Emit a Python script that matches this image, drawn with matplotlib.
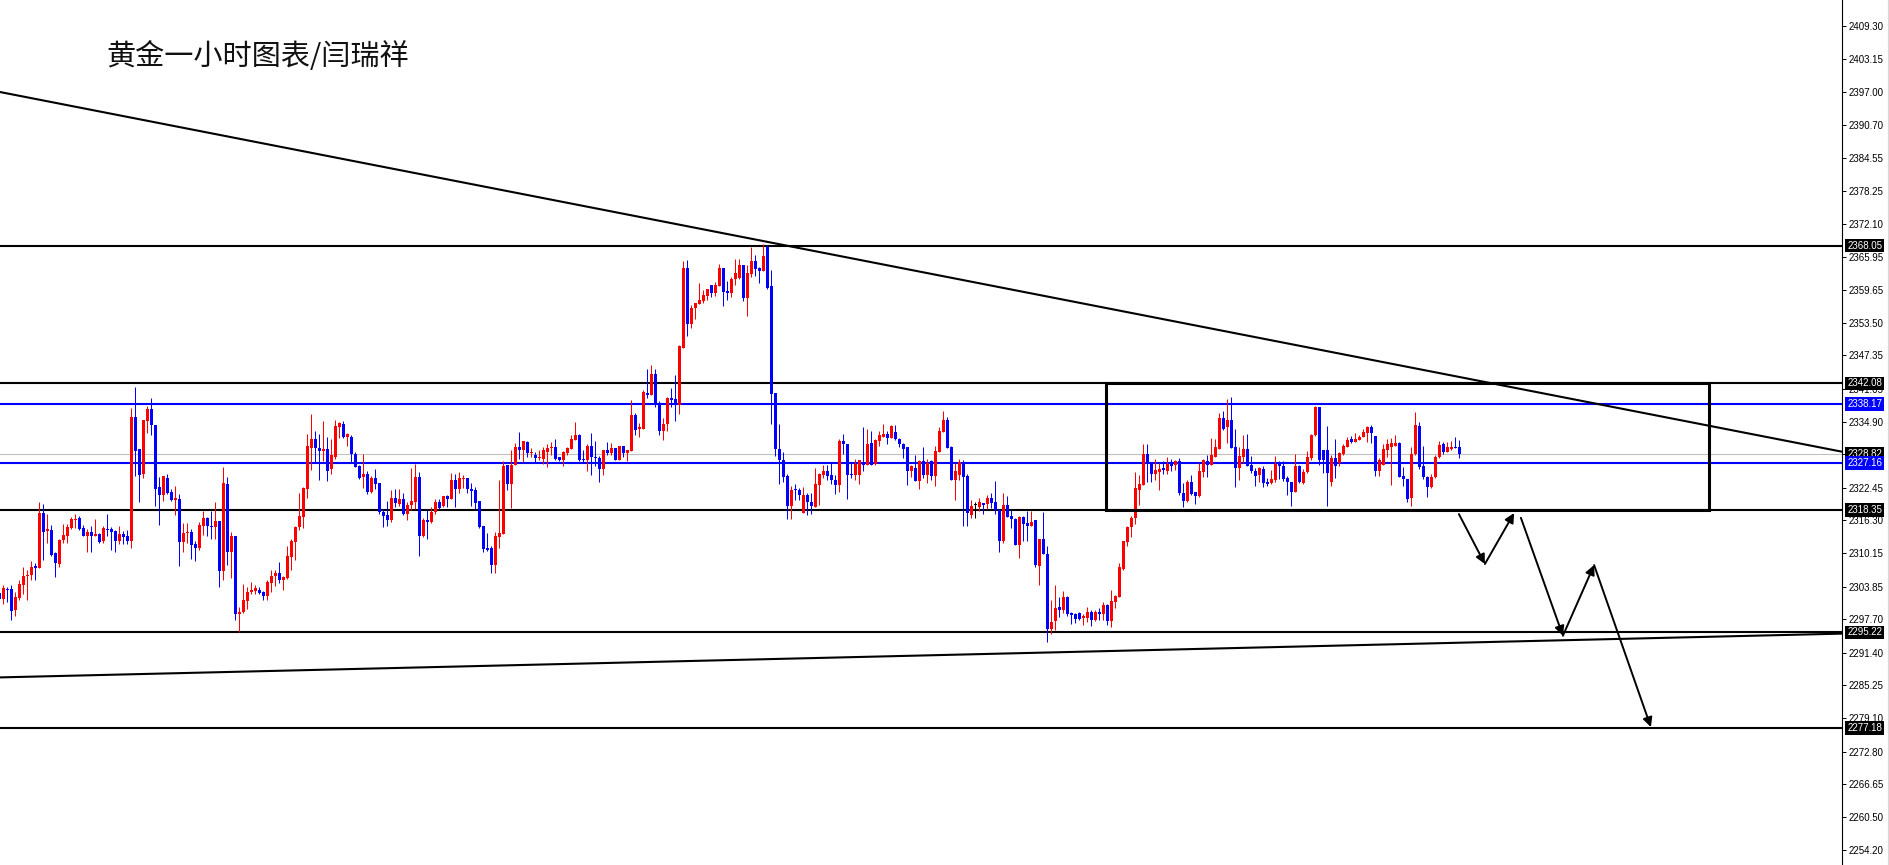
import matplotlib
matplotlib.use('Agg')
import matplotlib.pyplot as plt
from matplotlib.patches import Rectangle
from matplotlib.lines import Line2D

# 黄金 1小时K线：开盘 / 最高 / 最低 / 收盘（从左到右）
opens = [
    2302.6, 2301.6, 2303.4, 2303.4, 2299.4, 2301.7, 2304.2, 2305.8, 2306.1, 2307.8,
    2307.3, 2317.7, 2314.4, 2314.5, 2310.2, 2308.1, 2312.6, 2313.4, 2314.9, 2316.3,
    2316.8, 2314.9, 2313.4, 2314.2, 2313.3, 2313.8, 2312.4, 2314.7, 2314.7, 2314.4,
    2312.5, 2313.8, 2313.3, 2312.5, 2335.7, 2329.7, 2325.0, 2335.1, 2337.3, 2334.2,
    2322.6, 2321.0, 2324.2, 2321.6, 2320.1, 2320.4, 2312.3, 2313.9, 2314.1, 2311.8,
    2311.2, 2315.3, 2316.8, 2315.3, 2315.1, 2316.2, 2306.7, 2323.1, 2310.4, 2313.4,
    2298.7, 2299.0, 2301.1, 2302.8, 2303.1, 2303.3, 2302.9, 2302.0, 2304.6, 2305.8,
    2306.5, 2305.1, 2305.4, 2309.5, 2312.3, 2315.0, 2317.0, 2322.2, 2330.0, 2331.7,
    2330.0, 2329.4, 2329.8, 2325.9, 2328.3, 2333.9, 2334.4, 2332.0, 2332.1, 2328.9,
    2326.5, 2324.4, 2325.1, 2321.7, 2324.2, 2323.3, 2317.8, 2317.3, 2316.3, 2320.6,
    2319.4, 2320.4, 2317.6, 2319.2, 2319.8, 2324.4, 2313.4, 2316.4, 2316.1, 2317.8,
    2319.7, 2319.0, 2320.9, 2320.3, 2323.9, 2322.2, 2324.1, 2324.2, 2322.3, 2322.0,
    2319.9, 2315.3, 2311.1, 2311.2, 2308.0, 2313.2, 2313.7, 2326.7, 2323.2, 2326.7,
    2330.2, 2329.5, 2331.1, 2329.0, 2328.7, 2328.0, 2327.9, 2329.2, 2329.9, 2330.1,
    2328.2, 2327.7, 2329.0, 2329.8, 2331.5, 2332.4, 2327.9, 2327.6, 2330.4, 2328.2,
    2328.1, 2325.9, 2329.6, 2329.0, 2329.9, 2327.7, 2330.4, 2329.0, 2329.4, 2336.2,
    2333.5, 2333.5, 2340.2, 2339.9, 2343.9, 2338.4, 2333.1, 2334.5, 2339.4, 2339.2,
    2338.1, 2348.8, 2363.8, 2353.2, 2356.2, 2357.0, 2357.6, 2358.6, 2360.6, 2359.1,
    2360.4, 2363.9, 2359.4, 2359.1, 2361.8, 2362.0, 2364.3, 2358.2, 2362.6, 2365.1,
    2363.8, 2363.3, 2367.8, 2360.4, 2340.2, 2329.7, 2327.7, 2324.6, 2319.0, 2322.1,
    2322.0, 2317.7, 2321.1, 2319.8, 2318.8, 2322.9, 2324.9, 2325.6, 2324.8, 2324.0,
    2322.9, 2331.3, 2330.7, 2325.1, 2324.9, 2324.9, 2327.1, 2326.7, 2330.9, 2326.9,
    2331.3, 2332.1, 2332.6, 2331.8, 2332.9, 2331.7, 2330.7, 2330.1, 2325.6, 2326.2,
    2323.8, 2327.4, 2324.8, 2327.4, 2324.6, 2329.1, 2332.9, 2335.3, 2330.1, 2323.9,
    2324.8, 2327.3, 2324.6, 2317.4, 2319.2, 2318.8, 2319.5, 2319.4, 2320.6, 2319.7,
    2318.3, 2312.5, 2319.2, 2317.1, 2316.6, 2311.7, 2317.0, 2315.9, 2315.3, 2316.3,
    2307.8, 2312.8, 2310.0, 2295.8, 2297.3, 2300.0, 2299.4, 2301.8, 2298.8, 2298.6,
    2298.9, 2298.0, 2298.0, 2299.0, 2297.5, 2299.1, 2298.6, 2300.3, 2297.3, 2301.0,
    2301.9, 2307.2, 2312.3, 2315.0, 2316.8, 2322.0, 2323.0, 2328.9, 2327.0, 2325.0,
    2325.4, 2326.2, 2325.7, 2327.3, 2326.7, 2327.5, 2321.4, 2320.0, 2323.6, 2321.6,
    2320.9, 2325.5, 2327.5, 2326.7, 2328.3, 2329.8, 2335.6, 2333.8, 2335.2, 2330.2,
    2326.1, 2328.3, 2329.8, 2326.8, 2325.6, 2324.8, 2326.0, 2323.5, 2323.3, 2323.9,
    2326.9, 2326.6, 2324.3, 2323.5, 2321.6, 2326.6, 2323.3, 2325.4, 2328.0, 2332.4,
    2337.7, 2329.5, 2329.5, 2323.5, 2328.1, 2327.2, 2328.8, 2330.2, 2331.6, 2331.0,
    2331.5, 2332.0, 2332.8, 2333.8, 2332.2, 2325.7, 2326.8, 2329.6, 2330.1, 2330.3,
    2330.9, 2324.7, 2324.1, 2320.5, 2328.9, 2334.1, 2326.5, 2324.5, 2322.6, 2324.5,
    2328.2, 2330.7, 2329.1, 2329.8, 2330.1, 2330.1,
]
highs = [
    2302.9, 2304.2, 2303.8, 2304.2, 2302.8, 2305.1, 2307.6, 2306.9, 2308.6, 2308.3,
    2319.8, 2319.4, 2317.5, 2315.4, 2310.4, 2312.9, 2315.6, 2315.6, 2316.9, 2317.5,
    2317.2, 2315.4, 2314.6, 2315.3, 2316.5, 2314.0, 2315.3, 2317.5, 2315.1, 2314.5,
    2315.3, 2314.4, 2314.5, 2337.4, 2341.5, 2329.7, 2335.3, 2337.8, 2339.3, 2334.2,
    2324.4, 2324.6, 2325.0, 2322.2, 2322.8, 2321.2, 2315.9, 2315.9, 2314.6, 2312.5,
    2316.1, 2318.1, 2317.0, 2318.1, 2319.7, 2316.2, 2326.4, 2324.4, 2314.2, 2313.4,
    2300.1, 2304.3, 2303.8, 2304.7, 2304.1, 2303.8, 2303.1, 2305.0, 2307.0, 2306.9,
    2308.5, 2305.9, 2311.4, 2312.8, 2315.3, 2321.4, 2322.6, 2332.5, 2336.3, 2333.1,
    2332.6, 2335.1, 2332.0, 2331.7, 2335.3, 2334.8, 2335.1, 2332.8, 2332.3, 2329.2,
    2326.7, 2328.8, 2325.6, 2324.6, 2325.9, 2323.3, 2318.4, 2319.9, 2322.0, 2322.3,
    2322.3, 2321.5, 2319.8, 2326.1, 2327.0, 2325.4, 2316.8, 2318.3, 2318.9, 2320.4,
    2320.4, 2320.9, 2321.1, 2325.3, 2325.1, 2325.4, 2324.8, 2324.3, 2323.4, 2322.6,
    2319.9, 2315.3, 2313.9, 2311.5, 2314.1, 2324.0, 2327.4, 2326.7, 2329.6, 2330.9,
    2332.9, 2331.2, 2331.2, 2329.9, 2329.2, 2329.5, 2330.2, 2330.7, 2331.1, 2331.7,
    2328.2, 2329.3, 2330.1, 2332.4, 2334.9, 2332.6, 2329.6, 2330.6, 2332.7, 2331.3,
    2328.4, 2329.6, 2331.1, 2330.9, 2330.0, 2330.4, 2330.4, 2329.6, 2338.9, 2336.5,
    2334.6, 2340.8, 2344.8, 2345.6, 2344.8, 2338.7, 2335.6, 2339.6, 2341.3, 2343.6,
    2349.3, 2365.1, 2365.4, 2356.8, 2357.2, 2360.9, 2359.6, 2359.9, 2360.7, 2361.1,
    2364.6, 2363.9, 2361.3, 2362.1, 2365.6, 2365.6, 2364.3, 2364.3, 2367.8, 2366.3,
    2364.0, 2368.4, 2368.1, 2363.5, 2340.2, 2334.5, 2329.2, 2325.0, 2322.7, 2323.2,
    2322.4, 2322.6, 2321.5, 2321.5, 2326.1, 2325.2, 2326.7, 2326.7, 2327.2, 2324.9,
    2331.7, 2332.6, 2330.7, 2327.1, 2327.9, 2327.6, 2333.8, 2333.6, 2333.1, 2331.6,
    2333.1, 2334.5, 2333.2, 2334.3, 2334.3, 2331.8, 2330.9, 2330.1, 2326.8, 2328.6,
    2327.6, 2330.1, 2327.9, 2327.6, 2330.4, 2333.9, 2336.9, 2335.7, 2330.4, 2327.1,
    2327.9, 2327.6, 2325.0, 2320.1, 2319.8, 2320.6, 2319.6, 2321.0, 2321.5, 2323.7,
    2318.4, 2321.4, 2320.9, 2318.3, 2316.7, 2317.1, 2317.1, 2318.0, 2318.1, 2316.3,
    2312.8, 2317.8, 2311.4, 2301.3, 2304.1, 2301.9, 2303.0, 2302.0, 2299.0, 2298.9,
    2299.0, 2298.6, 2300.0, 2299.5, 2299.4, 2299.8, 2300.9, 2300.5, 2303.3, 2302.3,
    2308.3, 2312.5, 2315.3, 2317.1, 2325.5, 2324.8, 2330.7, 2330.7, 2327.1, 2327.8,
    2327.2, 2327.5, 2328.2, 2327.8, 2327.7, 2328.0, 2323.4, 2323.9, 2324.8, 2321.7,
    2327.2, 2327.9, 2328.6, 2331.8, 2331.6, 2336.6, 2336.9, 2339.1, 2339.6, 2333.5,
    2330.1, 2332.4, 2332.6, 2328.5, 2326.1, 2326.3, 2326.6, 2324.3, 2325.8, 2328.5,
    2327.4, 2327.5, 2324.7, 2323.6, 2328.9, 2326.8, 2326.0, 2329.4, 2332.6, 2337.9,
    2337.7, 2329.5, 2334.1, 2328.6, 2331.6, 2329.1, 2330.7, 2332.1, 2332.2, 2332.7,
    2332.4, 2333.6, 2334.0, 2334.3, 2332.2, 2328.0, 2330.7, 2331.6, 2331.8, 2332.4,
    2331.1, 2326.3, 2324.1, 2330.2, 2336.8, 2334.9, 2330.3, 2324.7, 2325.1, 2328.6,
    2331.3, 2331.1, 2331.1, 2331.3, 2332.1, 2331.5,
]
lows = [
    2301.0, 2300.6, 2301.0, 2297.5, 2298.4, 2301.3, 2302.4, 2301.3, 2305.0, 2305.1,
    2307.3, 2308.9, 2312.1, 2309.6, 2305.6, 2307.6, 2312.0, 2312.1, 2314.7, 2314.8,
    2314.5, 2313.3, 2310.4, 2310.4, 2313.3, 2312.0, 2312.1, 2313.3, 2310.8, 2310.4,
    2311.9, 2311.9, 2311.9, 2311.2, 2324.7, 2319.8, 2324.3, 2332.8, 2332.3, 2319.1,
    2315.4, 2320.0, 2321.3, 2320.0, 2317.3, 2307.8, 2310.3, 2312.0, 2309.1, 2308.7,
    2310.8, 2313.6, 2313.4, 2312.8, 2312.8, 2303.7, 2305.1, 2308.0, 2305.4, 2297.6,
    2295.3, 2298.9, 2299.7, 2302.4, 2302.5, 2302.4, 2301.4, 2301.3, 2302.8, 2303.9,
    2304.5, 2303.3, 2305.3, 2307.0, 2308.9, 2314.5, 2314.9, 2320.6, 2325.8, 2327.3,
    2323.9, 2327.5, 2323.8, 2325.1, 2327.9, 2331.8, 2331.8, 2330.4, 2327.3, 2326.3,
    2324.1, 2322.4, 2321.2, 2321.4, 2322.2, 2317.5, 2315.1, 2315.3, 2316.1, 2318.9,
    2319.0, 2317.4, 2316.4, 2318.3, 2318.4, 2309.7, 2313.1, 2312.9, 2315.9, 2317.6,
    2318.4, 2318.9, 2318.9, 2320.3, 2318.9, 2321.5, 2322.5, 2321.5, 2319.1, 2318.4,
    2314.9, 2310.4, 2310.6, 2306.5, 2306.5, 2311.2, 2313.7, 2322.0, 2318.6, 2326.7,
    2327.9, 2327.3, 2328.2, 2328.2, 2327.3, 2327.7, 2327.0, 2326.4, 2328.6, 2327.7,
    2327.4, 2326.6, 2328.7, 2329.8, 2331.5, 2327.4, 2327.2, 2325.6, 2324.9, 2326.5,
    2323.5, 2324.9, 2328.6, 2328.7, 2327.6, 2327.6, 2328.2, 2327.4, 2329.4, 2332.4,
    2332.1, 2333.5, 2339.4, 2339.9, 2337.7, 2332.3, 2331.4, 2333.2, 2337.7, 2335.1,
    2336.4, 2348.7, 2351.0, 2352.6, 2354.3, 2357.0, 2357.3, 2357.7, 2358.4, 2358.5,
    2360.4, 2356.7, 2357.7, 2358.4, 2360.6, 2361.8, 2357.6, 2354.8, 2362.1, 2362.4,
    2361.0, 2363.3, 2359.9, 2334.5, 2328.4, 2323.2, 2323.6, 2316.5, 2316.5, 2320.1,
    2320.1, 2317.7, 2317.4, 2317.6, 2318.8, 2319.3, 2324.3, 2323.9, 2323.1, 2321.2,
    2321.6, 2328.9, 2320.4, 2324.2, 2323.9, 2323.1, 2325.6, 2326.7, 2326.7, 2326.8,
    2330.4, 2332.1, 2330.6, 2331.8, 2331.5, 2330.1, 2328.1, 2322.9, 2324.5, 2323.7,
    2322.3, 2324.3, 2323.4, 2323.9, 2322.8, 2329.1, 2332.9, 2329.9, 2323.9, 2320.1,
    2323.9, 2315.3, 2315.3, 2316.7, 2316.7, 2318.0, 2317.5, 2318.4, 2318.6, 2317.5,
    2310.3, 2312.0, 2316.9, 2314.9, 2311.6, 2309.3, 2312.5, 2312.5, 2315.3, 2307.5,
    2304.1, 2310.0, 2293.5, 2295.0, 2295.6, 2298.2, 2298.8, 2298.3, 2296.9, 2297.0,
    2297.6, 2296.6, 2297.2, 2296.5, 2297.3, 2297.5, 2297.5, 2296.6, 2296.2, 2299.8,
    2301.9, 2307.0, 2311.4, 2313.1, 2315.6, 2319.2, 2323.0, 2323.6, 2323.6, 2323.9,
    2322.0, 2325.0, 2325.0, 2325.7, 2325.8, 2321.1, 2318.8, 2319.8, 2321.1, 2319.4,
    2320.7, 2324.5, 2324.5, 2326.7, 2328.3, 2329.8, 2333.3, 2330.9, 2330.0, 2322.6,
    2323.9, 2327.2, 2326.5, 2325.2, 2322.7, 2323.5, 2322.6, 2322.7, 2323.2, 2323.6,
    2324.1, 2323.8, 2321.1, 2319.0, 2321.6, 2323.3, 2323.2, 2325.3, 2327.7, 2332.2,
    2326.8, 2325.2, 2319.0, 2322.7, 2324.3, 2326.5, 2328.6, 2330.2, 2330.8, 2331.0,
    2331.5, 2332.0, 2331.1, 2330.9, 2324.6, 2324.7, 2326.8, 2328.2, 2323.0, 2330.3,
    2324.5, 2322.8, 2319.8, 2319.0, 2328.6, 2326.0, 2324.1, 2320.7, 2322.4, 2324.3,
    2328.0, 2328.8, 2329.1, 2329.6, 2329.9, 2328.1,
]
closes = [
    2301.5, 2303.6, 2303.2, 2299.2, 2301.9, 2304.4, 2305.9, 2306.1, 2307.6, 2307.3,
    2317.7, 2314.2, 2314.7, 2309.8, 2308.3, 2312.6, 2313.6, 2315.1, 2316.6, 2316.6,
    2314.7, 2313.4, 2314.1, 2313.4, 2313.8, 2312.3, 2314.9, 2314.5, 2314.1, 2312.5,
    2313.8, 2313.1, 2312.5, 2335.7, 2329.3, 2324.9, 2335.3, 2337.3, 2334.2, 2322.2,
    2321.0, 2324.6, 2321.5, 2320.1, 2320.6, 2312.3, 2313.9, 2314.2, 2311.6, 2311.2,
    2315.4, 2316.8, 2315.3, 2315.1, 2316.2, 2306.7, 2323.3, 2310.4, 2313.4, 2298.7,
    2299.1, 2301.3, 2302.9, 2303.3, 2303.6, 2302.6, 2302.1, 2304.7, 2305.9, 2306.5,
    2305.1, 2305.6, 2309.7, 2312.4, 2315.0, 2317.1, 2322.4, 2330.3, 2331.7, 2330.0,
    2329.4, 2329.8, 2325.6, 2328.6, 2334.0, 2334.6, 2332.1, 2332.5, 2328.8, 2326.4,
    2324.3, 2325.1, 2321.7, 2324.2, 2323.1, 2317.8, 2317.2, 2316.3, 2320.6, 2319.6,
    2320.4, 2317.6, 2319.3, 2319.9, 2324.4, 2313.3, 2316.4, 2316.1, 2317.8, 2319.7,
    2318.6, 2320.9, 2320.4, 2323.9, 2322.2, 2324.2, 2324.3, 2322.2, 2321.9, 2319.6,
    2315.1, 2310.9, 2310.8, 2308.0, 2313.4, 2313.9, 2326.6, 2323.2, 2326.8, 2330.2,
    2329.5, 2331.2, 2329.0, 2329.2, 2328.1, 2328.2, 2329.5, 2329.9, 2330.2, 2327.9,
    2327.7, 2329.2, 2329.9, 2331.7, 2332.4, 2327.7, 2327.6, 2330.4, 2328.2, 2328.1,
    2325.9, 2329.6, 2329.0, 2329.9, 2327.7, 2330.4, 2329.0, 2329.6, 2336.2, 2333.4,
    2333.8, 2340.4, 2339.9, 2343.9, 2338.1, 2333.1, 2334.5, 2339.4, 2339.0, 2338.1,
    2349.2, 2363.8, 2353.2, 2356.3, 2357.2, 2357.7, 2358.7, 2359.8, 2359.1, 2360.6,
    2363.9, 2359.3, 2359.1, 2361.8, 2362.8, 2364.3, 2358.1, 2362.9, 2365.1, 2363.7,
    2363.3, 2366.1, 2360.1, 2340.1, 2329.7, 2327.6, 2324.5, 2319.0, 2322.0, 2322.0,
    2321.1, 2321.1, 2319.8, 2319.0, 2323.1, 2325.1, 2325.6, 2324.6, 2323.9, 2322.9,
    2331.3, 2330.7, 2324.9, 2324.8, 2326.9, 2327.6, 2326.7, 2330.7, 2326.7, 2331.5,
    2332.3, 2332.6, 2331.9, 2334.1, 2331.6, 2330.7, 2329.8, 2325.6, 2326.5, 2323.8,
    2327.4, 2324.8, 2327.1, 2324.6, 2329.4, 2333.1, 2335.3, 2329.9, 2323.9, 2325.6,
    2327.3, 2324.5, 2317.7, 2319.0, 2319.2, 2319.7, 2319.2, 2320.6, 2319.6, 2318.3,
    2312.5, 2319.2, 2316.9, 2316.5, 2311.7, 2317.0, 2315.6, 2315.3, 2316.1, 2308.0,
    2312.8, 2310.0, 2295.8, 2297.2, 2299.8, 2299.4, 2301.8, 2298.6, 2298.5, 2297.8,
    2297.8, 2298.3, 2299.0, 2297.5, 2299.1, 2298.6, 2300.3, 2297.3, 2301.1, 2302.1,
    2307.5, 2312.5, 2315.0, 2316.8, 2322.5, 2323.2, 2328.8, 2327.0, 2325.0, 2325.8,
    2326.0, 2325.8, 2326.9, 2326.6, 2327.5, 2321.4, 2320.0, 2323.6, 2321.3, 2320.9,
    2325.7, 2327.7, 2326.7, 2328.6, 2330.2, 2335.6, 2333.5, 2335.2, 2330.0, 2326.1,
    2328.5, 2329.8, 2326.6, 2325.6, 2324.7, 2326.2, 2323.3, 2323.2, 2324.1, 2326.9,
    2326.5, 2324.1, 2323.5, 2321.6, 2326.6, 2323.5, 2325.5, 2328.2, 2332.4, 2337.7,
    2327.6, 2327.6, 2325.2, 2328.0, 2326.6, 2329.0, 2330.3, 2331.5, 2331.1, 2331.6,
    2332.1, 2333.0, 2333.8, 2332.7, 2325.7, 2327.7, 2329.8, 2330.7, 2330.9, 2330.9,
    2324.5, 2324.1, 2320.4, 2328.9, 2334.3, 2326.3, 2324.5, 2322.6, 2324.5, 2328.2,
    2330.5, 2329.1, 2330.1, 2330.1, 2330.0, 2328.8,
]

# 水平支撑/阻力位
black_levels = [2368.05, 2342.08, 2318.35, 2295.22, 2277.18]
blue_levels = [2338.17, 2327.16]
bid_price = 2328.82

# 右侧价格刻度
tick_vals = [2409.30, 2403.15, 2397.00, 2390.70, 2384.55, 2378.25, 2372.10, 2365.95,
             2359.65, 2353.50, 2347.35, 2341.05, 2334.90, 2328.75, 2322.45, 2316.30,
             2310.15, 2303.85, 2297.70, 2291.40, 2285.25, 2279.10, 2272.80, 2266.65,
             2260.50, 2254.20]

# 趋势线（K线序号, 价格）
down_trend = [(0.175, 2396.94), (460.675, 2329.24)]
up_trend = [(0.175, 2286.76), (460.675, 2295.00)]

# 震荡区间方框
box_x = [276.7, 427.4]
box_y = [2318.35, 2342.08]

# 预期走势箭头路径
path1 = [(364.9, 2317.5), (371.4, 2308.1), (378.7, 2317.7)]
path2 = [(380.4, 2316.8), (390.9, 2294.6), (398.7, 2307.9), (412.9, 2277.4)]

title = '黄金一小时图表/闫瑞祥'

W, H = 1890, 865
fig = plt.figure(figsize=(W / 100, H / 100), dpi=100)
fig.patch.set_facecolor('white')
ax = fig.add_axes([0, 0, 1842 / W, 1])
ax.set_xlim(0.175, 0.175 + 1842 / 4)
ax.set_ylim(2251.45, 2414.26)

# K线
px = 0.72
for i, (o, h, l, c) in enumerate(zip(opens, highs, lows, closes)):
    if c > o:
        col = '#ff0000'
    elif c < o:
        col = '#0000ff'
    else:
        col = 'black'
    ax.vlines(i, l, h, color=col, lw=px, zorder=3)
    ax.bar(i, max(abs(c - o), 0.2), bottom=min(o, c), width=0.72,
           color=col, linewidth=0, zorder=3)

# 水平线
for lv in black_levels:
    ax.axhline(lv, color='black', lw=1.5, zorder=2)
for lv in blue_levels:
    ax.axhline(lv, color='#0000ff', lw=1.5, zorder=2)
ax.axhline(bid_price, color='#c0c0c0', lw=0.8, zorder=1)

# 趋势线
ax.axline(down_trend[0], down_trend[1], color='black', lw=1.5, zorder=2)
ax.axline(up_trend[0], up_trend[1], color='black', lw=1.5, zorder=2)

# 方框
ax.add_patch(Rectangle((box_x[0], box_y[0]), box_x[1] - box_x[0], box_y[1] - box_y[0],
                       fill=False, edgecolor='black', lw=2.2, zorder=4))

# 箭头
for path in (path1, path2):
    for p0, p1 in zip(path[:-1], path[1:]):
        ax.annotate('', xy=p1, xytext=p0,
                    arrowprops=dict(arrowstyle='-|>', color='black', lw=1.4,
                                    mutation_scale=14, shrinkA=0, shrinkB=0),
                    zorder=5)

# 标题
ax.text(106 / 1842, 1 - 57 / H, title, transform=ax.transAxes, ha='left', va='center',
        fontsize=21, color='#111111', family=['Noto Sans CJK SC', 'DejaVu Sans'])

# 坐标轴
for s in ['top', 'left', 'bottom']:
    ax.spines[s].set_visible(False)
ax.spines['right'].set_color('black')
ax.spines['right'].set_linewidth(0.8)
ax.set_xticks([])
ax.yaxis.tick_right()
ax.set_yticks(tick_vals)
ax.set_yticklabels(['%.2f' % v for v in tick_vals])
lab_font = ['Liberation Sans', 'DejaVu Sans']
ax.tick_params(axis='y', direction='out', length=3, width=0.7, pad=2,
               labelsize=7, labelcolor='black')
for t in ax.get_yticklabels():
    t.set_family(lab_font)

# 价格标签
tr = ax.get_yaxis_transform()
def price_tag(v, bg):
    ax.text(1.0028, v, '%.2f' % v, transform=tr, ha='left', va='center', fontsize=7,
            color='white', family=lab_font, clip_on=False, zorder=6,
            bbox=dict(boxstyle='square,pad=0.2', fc=bg, ec='none'))

price_tag(bid_price, 'black')
for lv in black_levels:
    price_tag(lv, 'black')
for lv in blue_levels:
    price_tag(lv, '#0000ff')

fig.add_artist(Line2D([1888 / W, 1888 / W], [0, 1], color='#d8d8d8', lw=0.8,
                      transform=fig.transFigure))

fig.savefig('out.png', dpi=100, facecolor='white')
